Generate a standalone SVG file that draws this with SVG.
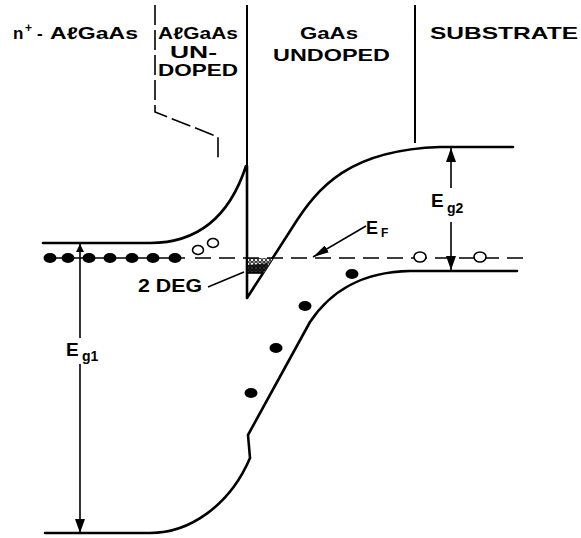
<svg xmlns="http://www.w3.org/2000/svg" width="581" height="538" viewBox="0 0 581 538">
<defs>
<style>
.t{font-family:"Liberation Sans",Arial,sans-serif;font-weight:bold;fill:#000}
.h{font-size:17px}
.band{fill:none;stroke:#000;stroke-width:2.6;stroke-linejoin:round;stroke-linecap:round}
.div{fill:none;stroke:#000;stroke-width:2}
.dash{fill:none;stroke:#000;stroke-width:1.6;stroke-dasharray:20 5}
.ef{fill:none;stroke:#000;stroke-width:1.6;stroke-dasharray:16 8}
.ln{fill:none;stroke:#000;stroke-width:1.6}
.e{fill:#000}
.h0{fill:#fff;stroke:#000;stroke-width:1.6}
</style>
<marker id="ah" viewBox="0 0 14 10" refX="14" refY="5" markerWidth="14" markerHeight="10" markerUnits="userSpaceOnUse" orient="auto">
<path d="M0 0 L14 5 L0 10 Z" fill="#000"/>
</marker>
<marker id="ahf" viewBox="0 0 16 8" refX="16" refY="4" markerWidth="16" markerHeight="8" markerUnits="userSpaceOnUse" orient="auto">
<path d="M0 0 L16 4 L0 8 Z" fill="#000"/>
</marker>
<marker id="ahs" viewBox="0 0 10 10" refX="10" refY="5" markerWidth="9" markerHeight="8" markerUnits="userSpaceOnUse" orient="auto">
<path d="M0 0 L10 5 L0 10 Z" fill="#000"/>
</marker>
<pattern id="deg" width="4" height="4" patternUnits="userSpaceOnUse">
<rect width="4" height="4" fill="#fff"/>
<circle cx="2" cy="2" r="1.4" fill="none" stroke="#000" stroke-width="1"/>
</pattern>
</defs>

<g id="headers">
<text class="t h" x="13" y="39">n</text>
<text class="t" x="25" y="32" font-size="12">+</text>
<text class="t h" x="37" y="39">-</text>
<text class="t h" x="50" y="39" textLength="88" lengthAdjust="spacingAndGlyphs">AℓGaAs</text>
<text class="t h" x="158" y="39" textLength="80" lengthAdjust="spacingAndGlyphs">AℓGaAs</text>
<text class="t h" x="170" y="58" textLength="47" lengthAdjust="spacingAndGlyphs">UN-</text>
<text class="t h" x="158" y="76" textLength="80" lengthAdjust="spacingAndGlyphs">DOPED</text>
<text class="t h" x="300" y="39" textLength="58" lengthAdjust="spacingAndGlyphs">GaAs</text>
<text class="t h" x="273" y="61" textLength="117" lengthAdjust="spacingAndGlyphs">UNDOPED</text>
<text class="t h" x="430" y="39" textLength="148" lengthAdjust="spacingAndGlyphs">SUBSTRATE</text>
</g>

<g id="dividers">
<path class="dash" d="M155 5 L155 112 L218 137 L218 160"/>
<path class="div" d="M247 5 L247 298"/>
<path class="div" d="M415 5 L415 143"/>
</g>

<g id="conduction-band">
<path class="band" d="M43 243 L150 243 C200 243 230 215 246 166 L247 166 L247 298 L292 228 C318 186 350 150 440 147 L513 147"/>
</g>

<g id="valence-band">
<path class="band" d="M45 533 L150 533 C190 533 230 505 250 458 L248 435 L310 322 C330 292 360 272 410 271 L517 271"/>
</g>

<g id="two-deg">
<path d="M248 258 L273 258 L263.5 273 L248 273 Z" fill="url(#deg)"/>
<path d="M248 265 L269 263 L263.5 273 L248 273 Z" fill="#000" opacity="0.8"/>
<path class="ln" d="M248 273 L263.5 273"/>
<path class="ln" d="M208 287 L244 272"/>
<text class="t" x="138" y="292" font-size="18" textLength="64" lengthAdjust="spacingAndGlyphs">2 DEG</text>
</g>

<g id="fermi-level">
<path class="ln" d="M45 258 L185 258"/>
<path class="ef" d="M195 258 L525 258"/>
<ellipse class="e" cx="50" cy="258" rx="6.5" ry="5"/>
<ellipse class="e" cx="68" cy="258" rx="6.5" ry="5"/>
<ellipse class="e" cx="89" cy="258" rx="6.5" ry="5"/>
<ellipse class="e" cx="110" cy="258" rx="6.5" ry="5"/>
<ellipse class="e" cx="132" cy="258" rx="6.5" ry="5"/>
<ellipse class="e" cx="153" cy="258" rx="6.5" ry="5"/>
<ellipse class="e" cx="175" cy="258" rx="6.5" ry="5"/>
<ellipse class="h0" cx="198" cy="250" rx="5.5" ry="4.5"/>
<ellipse class="h0" cx="213" cy="243" rx="5.5" ry="4.5"/>
<ellipse class="h0" cx="420" cy="257" rx="6" ry="5"/>
<ellipse class="h0" cx="480" cy="257" rx="6" ry="5"/>
</g>

<g id="holes">
<ellipse class="e" cx="352" cy="274" rx="6.5" ry="5"/>
<ellipse class="e" cx="305" cy="306" rx="6.5" ry="5"/>
<ellipse class="e" cx="276" cy="348" rx="6.5" ry="5"/>
<ellipse class="e" cx="251" cy="393" rx="6.5" ry="5"/>
</g>

<g id="connectors">
<path class="ln" d="M80 338 L80 244" marker-end="url(#ahs)"/>
<path class="ln" d="M80 364 L80 533" marker-end="url(#ah)"/>
<path class="ln" d="M451 188 L451 148" marker-end="url(#ah)"/>
<path class="ln" d="M451 222 L451 270" marker-end="url(#ah)"/>
<path class="ln" d="M366 226 L313 257" marker-end="url(#ahf)"/>
</g>

<g id="labels">
<text class="t" x="66" y="356" font-size="19">E</text>
<text class="t" x="82" y="361" font-size="14">g1</text>
<text class="t" x="431" y="207" font-size="19">E</text>
<text class="t" x="447" y="213" font-size="14">g2</text>
<text class="t" x="366" y="234" font-size="18">E</text>
<text class="t" x="381" y="237" font-size="12">F</text>
</g>
</svg>
